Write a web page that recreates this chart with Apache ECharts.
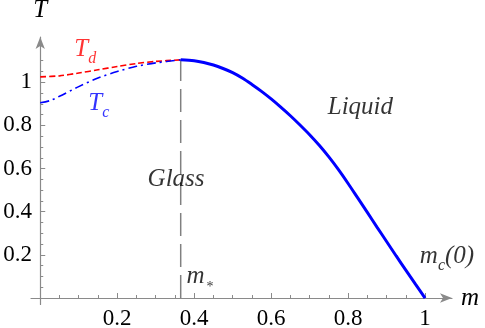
<!DOCTYPE html>
<html>
<head>
<meta charset="utf-8">
<script src="https://cdn.jsdelivr.net/npm/echarts@6.0.0/dist/echarts.min.js"></script>
<style>
  html, body { margin: 0; padding: 0; background: #fff; }
  #chart { width: 485px; height: 328px; }
</style>
</head>
<body>
<div id="chart"></div>
<script>
// dynamic transition T_d (red dashed), m from 0 to m*
const mTd = [0, 0.05, 0.1, 0.15, 0.2, 0.25, 0.3, 0.365]
const tdValues = [1.025, 1.03, 1.043, 1.058, 1.073, 1.087, 1.097, 1.104]

// static transition T_c (blue dash-dot), m from 0 to m*
const mTc = [0, 0.025, 0.05, 0.1, 0.15, 0.2, 0.25, 0.3, 0.365]
const tcValues = [0.905, 0.915, 0.935, 0.98, 1.02, 1.05, 1.074, 1.09, 1.104]

// common line (blue solid), m from m* to m_c(0)
const mLine = [0.365, 0.4, 0.425, 0.45, 0.475, 0.5, 0.525, 0.55, 0.575, 0.6, 0.625, 0.65, 0.675, 0.7,
  0.725, 0.75, 0.775, 0.8, 0.825, 0.85, 0.875, 0.9, 0.925, 0.95, 0.975, 1.0]
const tLine = [1.104, 1.1, 1.092, 1.08, 1.064, 1.045, 1.02, 0.99, 0.958, 0.923, 0.885, 0.845, 0.802, 0.757,
  0.708, 0.654, 0.595, 0.531, 0.464, 0.397, 0.329, 0.262, 0.195, 0.129, 0.064, 0]

const mStar = 0.365
const tStar = 1.104

// tick values
const xMajor = [0.2, 0.4, 0.6, 0.8, 1]
const xMinor = [0.05, 0.1, 0.15, 0.25, 0.3, 0.35, 0.45, 0.5, 0.55, 0.65, 0.7, 0.75, 0.85, 0.9, 0.95]
const yMajor = [0.2, 0.4, 0.6, 0.8, 1]
const yMinor = [0.05, 0.1, 0.15, 0.25, 0.3, 0.35, 0.45, 0.5, 0.55, 0.65, 0.7, 0.75, 0.85, 0.9, 0.95, 1.05, 1.1]

const serif = 'Liberation Serif'
const axisGray = '#8a8a8a'

const chart = echarts.init(document.getElementById('chart'), null, { renderer: 'canvas' })

function pairs(xs, ys) {
  return xs.map((x, i) => [x, ys[i]])
}

function richFor(color) {
  return {
    i: { fontFamily: serif, fontStyle: 'italic', fontSize: 25, lineHeight: 26, color: color, verticalAlign: 'top' },
    sub: { fontFamily: serif, fontStyle: 'italic', fontSize: 16, lineHeight: 15, padding: [14, 0, 0, 0], color: color, verticalAlign: 'top' },
    star: { fontFamily: serif, fontSize: 14, lineHeight: 13, padding: [17, 0, 0, 2], color: color, verticalAlign: 'top' }
  }
}

// text annotations, in data coordinates
const annotations = [
  { value: [0.117, 1.15], text: '{i|T}{sub|d}', color: '#ff0000' },
  { value: [0.152, 0.9], text: '{i|T}{sub|c}', color: '#0000ff' },
  { value: [0.353, 0.547], text: '{i|Glass}', color: '#000' },
  { value: [0.832, 0.881], text: '{i|Liquid}', color: '#000' },
  { value: [0.415, 0.1], text: '{i|m}{star|*}', color: '#000' },
  { value: [1.057, 0.19], text: '{i|m}{sub|c}{i|(0)}', color: '#000' }
]

const tickLabel = { fontFamily: serif, fontSize: 23, color: '#000' }

const option = {
  animation: false,
  backgroundColor: '#fff',
  textStyle: { fontFamily: serif },
  grid: {
    left: 31,
    right: 33,
    top: 37,
    bottom: 23.5,
    containLabel: false,
    outerBoundsMode: 'none'
  },
  xAxis: [
    {
      type: 'value',
      min: -0.024,
      max: 1.07,
      position: 'bottom',
      name: 'm',
      nameLocation: 'end',
      nameGap: 9,
      nameTextStyle: { fontFamily: serif, fontStyle: 'italic', fontSize: 25, color: '#000', align: 'left', verticalAlign: 'middle' },
      axisLine: {
        show: true,
        onZero: true,
        onZeroAxisIndex: 0,
        symbol: ['none', 'arrow'],
        symbolSize: [7, 12],
        lineStyle: { color: axisGray, width: 1.2 }
      },
      axisTick: { show: true, inside: true, length: 5, customValues: xMajor, lineStyle: { color: axisGray } },
      axisLabel: { show: true, customValues: xMajor, margin: 3, ...tickLabel },
      splitLine: { show: false }
    },
    {
      type: 'value',
      min: -0.024,
      max: 1.07,
      position: 'bottom',
      axisLine: { show: false, onZero: true, onZeroAxisIndex: 0 },
      axisTick: { show: true, inside: true, length: 3, customValues: xMinor, lineStyle: { color: axisGray } },
      axisLabel: { show: false },
      splitLine: { show: false }
    }
  ],
  yAxis: [
    {
      type: 'value',
      min: -0.03,
      max: 1.21,
      position: 'left',
      name: 'T',
      nameLocation: 'end',
      nameGap: 14,
      nameTextStyle: { fontFamily: serif, fontStyle: 'italic', fontSize: 25, color: '#000', align: 'center' },
      axisLine: {
        show: true,
        onZero: true,
        onZeroAxisIndex: 0,
        symbol: ['none', 'arrow'],
        symbolSize: [7, 12],
        lineStyle: { color: axisGray, width: 1.2 }
      },
      axisTick: { show: true, inside: true, length: 5, customValues: yMajor, lineStyle: { color: axisGray } },
      axisLabel: { show: true, customValues: yMajor, margin: -1, ...tickLabel },
      splitLine: { show: false }
    },
    {
      type: 'value',
      min: -0.03,
      max: 1.21,
      position: 'left',
      axisLine: { show: false, onZero: true, onZeroAxisIndex: 0 },
      axisTick: { show: true, inside: true, length: 3, customValues: yMinor, lineStyle: { color: axisGray } },
      axisLabel: { show: false },
      splitLine: { show: false }
    }
  ],
  series: [
    {
      name: 'm*',
      type: 'line',
      data: [[mStar, 0], [mStar, tStar]],
      symbol: 'none',
      silent: true,
      lineStyle: { color: '#808080', width: 1.5, type: [23, 8] },
      z: 1
    },
    {
      name: 'Td',
      type: 'line',
      data: pairs(mTd, tdValues),
      symbol: 'none',
      smooth: 0.3,
      silent: true,
      lineStyle: { color: '#ff0000', width: 1.6, type: [6, 3] },
      z: 3
    },
    {
      name: 'Tc',
      type: 'line',
      data: pairs(mTc, tcValues),
      symbol: 'none',
      smooth: 0.3,
      silent: true,
      lineStyle: { color: '#0000ff', width: 1.6, type: [9, 4, 2, 4] },
      z: 4
    },
    {
      name: 'line',
      type: 'line',
      data: pairs(mLine, tLine),
      symbol: 'none',
      smooth: 0.3,
      silent: true,
      lineStyle: { color: '#0000ff', width: 3 },
      z: 5
    },
    {
      name: 'labels',
      type: 'scatter',
      symbolSize: 0,
      silent: true,
      data: annotations.map(a => ({
        value: a.value,
        label: {
          show: true,
          position: 'inside',
          formatter: a.text,
          rich: richFor(a.color)
        }
      })),
      z: 6
    }
  ]
}

chart.setOption(option)
</script>
</body>
</html>
